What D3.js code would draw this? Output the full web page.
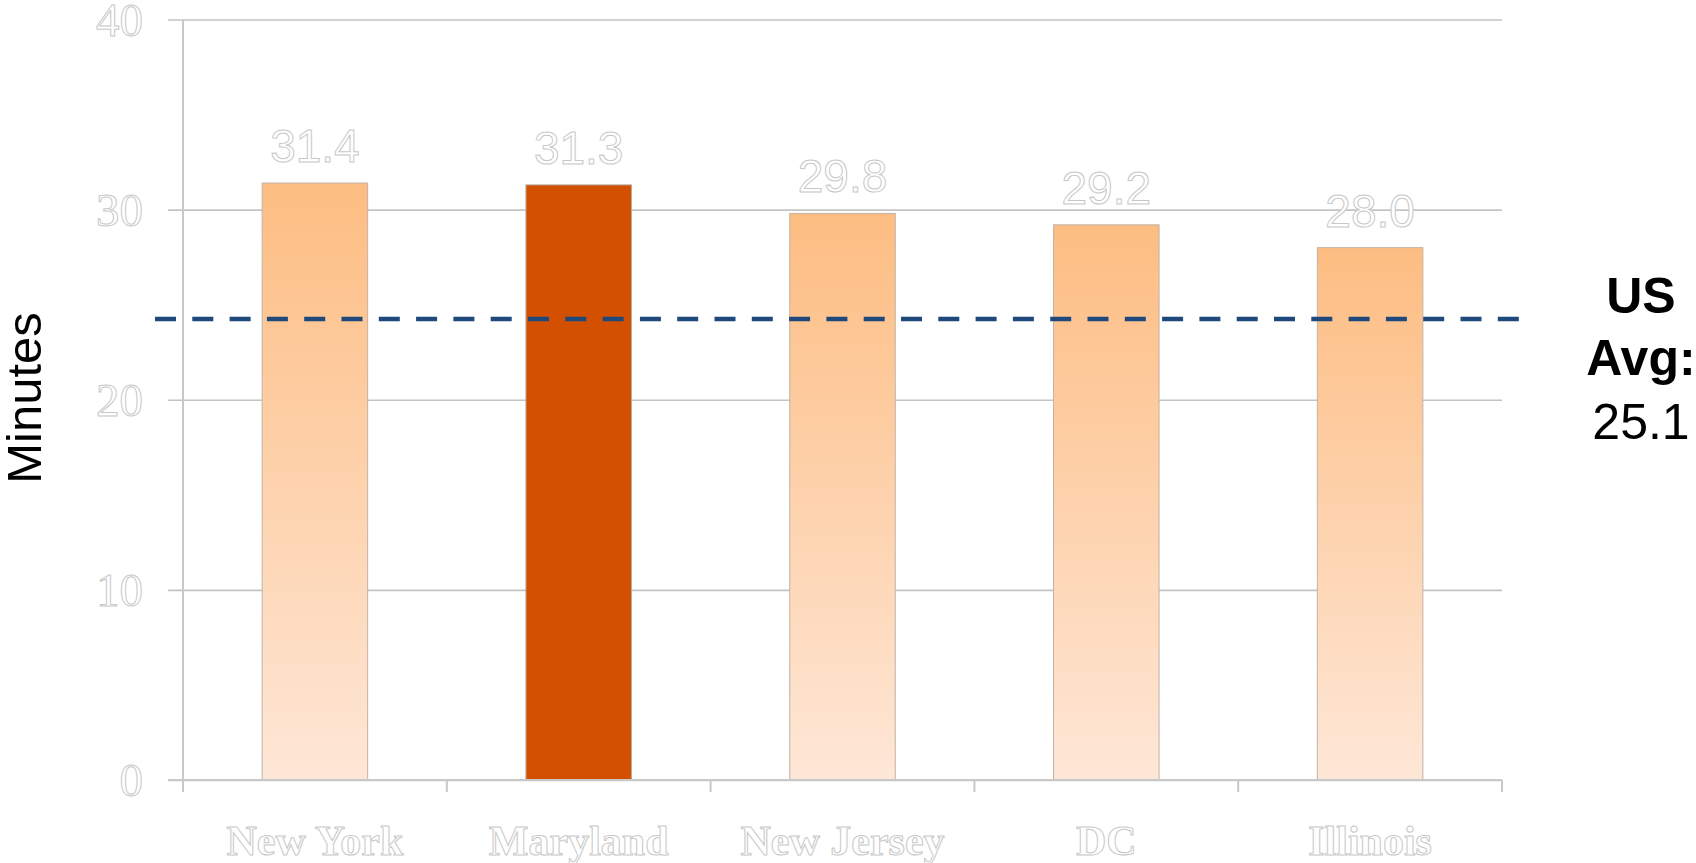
<!DOCTYPE html>
<html>
<head>
<meta charset="utf-8">
<script src="https://cdn.jsdelivr.net/npm/d3@7"></script>
<style>
  html, body { margin: 0; padding: 0; background: #ffffff; overflow: hidden; }
  svg { display: block; }
</style>
</head>
<body>
<svg id="chart" width="1696" height="863"></svg>
<script>
// ---- data ----
const categories = ["New York", "Maryland", "New Jersey", "DC", "Illinois"];
const values = [31.4, 31.3, 29.8, 29.2, 28.0];
const highlighted = ["Maryland"];
const yTicks = [0, 10, 20, 30, 40];
const yDomain = [0, 40];
const avgLinePosition = 24.25;          // where the dashed line is drawn in the picture
const avgLabelLines = ["US", "Avg:", "25.1"];
const yTitle = "Minutes";

// ---- layout ----
const W = 1696, H = 863;
const plot = { left: 183, right: 1502, top: 19.5, bottom: 780 };

const svg = d3.select("#chart");

const x = d3.scaleBand().domain(categories).range([plot.left, plot.right])
  .paddingInner(0.6).paddingOuter(0.3);
const y = d3.scaleLinear().domain(yDomain).range([plot.bottom, plot.top]);

// gradient for the normal bars
const defs = svg.append("defs");
const grad = defs.append("linearGradient").attr("id", "barGrad")
  .attr("x1", 0).attr("y1", 0).attr("x2", 0).attr("y2", 1);
grad.append("stop").attr("offset", "0%").attr("stop-color", "#fdbd82");
grad.append("stop").attr("offset", "100%").attr("stop-color", "#fee7d7");

const gridColor = "#c4c4c4";
const outline = "#c8c8c8";

// gridlines via axis
const yGrid = d3.axisLeft(y).tickValues(yTicks)
  .tickSize(-(plot.right - plot.left) - 15).tickFormat("");
svg.append("g").attr("transform", `translate(${plot.left - 15},0)`)
  .call(g => {
    g.call(yGrid.tickSize(-(plot.right - plot.left + 15)));
    g.select(".domain").remove();
    g.selectAll(".tick line").attr("stroke", gridColor).attr("stroke-width", 1.6);
  });

// y axis line
svg.append("line")
  .attr("x1", plot.left).attr("x2", plot.left)
  .attr("y1", y(yDomain[1])).attr("y2", y(yDomain[0]))
  .attr("stroke", outline).attr("stroke-width", 2);

// y tick labels
svg.append("g").selectAll("text").data(yTicks).join("text")
  .attr("x", 143).attr("y", d => y(d))
  .attr("dy", "0.35em")
  .attr("text-anchor", "end")
  .attr("font-family", "'Liberation Serif', 'Times New Roman', serif")
  .attr("font-size", 47)
  .attr("fill", "#ffffff").attr("stroke", outline).attr("stroke-width", 1)
  .text(d => d);

// bars
svg.append("g").selectAll("rect").data(categories).join("rect")
  .attr("x", d => x(d))
  .attr("width", x.bandwidth())
  .attr("y", (d, i) => y(values[i]))
  .attr("height", (d, i) => y(0) - y(values[i]))
  .attr("fill", d => highlighted.includes(d) ? "#d35000" : "url(#barGrad)")
  .attr("stroke", d => highlighted.includes(d) ? "#b8a89c" : "#c2b2a6")
  .attr("stroke-width", 1);

// x axis line + ticks at band boundaries
const step = x.step();
const boundaries = d3.range(categories.length + 1).map(i => plot.left + i * step);
svg.append("line")
  .attr("x1", plot.left - 15).attr("x2", plot.right)
  .attr("y1", y(0)).attr("y2", y(0))
  .attr("stroke", outline).attr("stroke-width", 2);
svg.append("g").selectAll("line").data(boundaries).join("line")
  .attr("x1", d => d).attr("x2", d => d)
  .attr("y1", y(0)).attr("y2", y(0) + 12)
  .attr("stroke", outline).attr("stroke-width", 2);

// category labels
svg.append("g").selectAll("text").data(categories).join("text")
  .attr("x", d => x(d) + x.bandwidth() / 2)
  .attr("y", 855)
  .attr("text-anchor", "middle")
  .attr("font-family", "'Liberation Serif', 'Times New Roman', serif")
  .attr("font-weight", "bold")
  .attr("font-size", 42)
  .attr("fill", "#ffffff").attr("stroke", outline).attr("stroke-width", 1)
  .text(d => d);

// value labels
svg.append("g").selectAll("text").data(categories).join("text")
  .attr("x", d => x(d) + x.bandwidth() / 2)
  .attr("y", (d, i) => y(values[i]) - 21)
  .attr("text-anchor", "middle")
  .attr("font-family", "'Liberation Sans', Arial, sans-serif")
  .attr("font-size", 46)
  .attr("fill", "#ffffff").attr("stroke", outline).attr("stroke-width", 1)
  .text((d, i) => values[i].toFixed(1));

// average dashed line
svg.append("line")
  .attr("x1", 155).attr("x2", 1520)
  .attr("y1", y(avgLinePosition)).attr("y2", y(avgLinePosition))
  .attr("stroke", "#1f487c").attr("stroke-width", 4.5)
  .attr("stroke-dasharray", "21 16.3");

// average label
const avgText = svg.append("text")
  .attr("text-anchor", "middle")
  .attr("font-family", "'Liberation Sans', Arial, sans-serif")
  .attr("font-size", 50)
  .attr("fill", "#000000");
const avgBaselines = [313, 375, 439];
avgLabelLines.forEach((t, i) => {
  avgText.append("tspan")
    .attr("x", 1641).attr("y", avgBaselines[i])
    .attr("font-weight", i < 2 ? "bold" : "normal")
    .text(t);
});

// y axis title
svg.append("text")
  .attr("transform", `translate(41, 398) rotate(-90)`)
  .attr("text-anchor", "middle")
  .attr("font-family", "'Liberation Sans', Arial, sans-serif")
  .attr("font-size", 49)
  .attr("fill", "#000000")
  .text(yTitle);
</script>
</body>
</html>
